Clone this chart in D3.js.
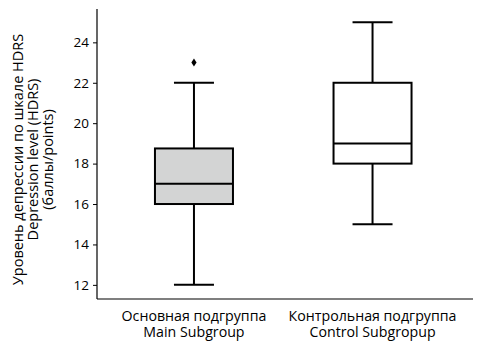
<!DOCTYPE html>
<html>
<head>
<meta charset="utf-8">
<script src="https://cdn.jsdelivr.net/npm/d3@7"></script>
<style>
  body { margin: 0; background: #fff; }
  text { font-family: "Open Sans", sans-serif; }
</style>
</head>
<body>
<svg width="483" height="354"></svg>
<script>
const groups = ["Основная подгруппа\nMain Subgroup", "Контрольная подгруппа\nControl Subgropup"];
const mins = [12, 15];
const q1s = [16, 18];
const medians = [17, 19];
const q3s = [18.75, 22];
const maxs = [22, 25];
const outliers = [[23], []];
const fills = ["#d3d4d4", "#ffffff"];
const yTicks = [12, 14, 16, 18, 20, 22, 24];

const boxes = groups.map((g, i) => ({
  group: g, min: mins[i], q1: q1s[i], median: medians[i], q3: q3s[i], max: maxs[i],
  out: outliers[i], fill: fills[i]
}));

const plotL = 97, plotR = 473, plotT = 9, plotB = 298;

const svg = d3.select('svg');

const y = d3.scaleLinear()
  .domain([11.35, 25.65])
  .range([plotB, plotT]);

const x = d3.scalePoint()
  .domain(groups)
  .range([plotL, 469.5])
  .padding(0.543);

const boxW = 78, capW = 40;

// axes
const yAxis = svg.append('g')
  .attr('transform', `translate(${plotL},0)`)
  .call(d3.axisLeft(y).tickValues(yTicks).tickSize(4).tickPadding(4).tickSizeOuter(0));
yAxis.select('.domain').attr('stroke', '#000').attr('stroke-width', 1.2)
  .attr('d', `M0,${plotT}V${plotB + 1}`);
yAxis.selectAll('.tick line').attr('stroke', '#000').attr('stroke-width', 1);
yAxis.selectAll('.tick text').attr('font-size', 13.5).attr('fill', '#000')
  .style('font-family', '"Open Sans", sans-serif');

const xAxis = svg.append('g')
  .attr('transform', `translate(0,${plotB + 1})`)
  .call(d3.axisBottom(x).tickSize(0).tickFormat(''));
xAxis.select('.domain').attr('stroke', '#000').attr('stroke-width', 1.2)
  .attr('d', `M${plotL},0H${plotR}`);

// x labels, two lines each
groups.forEach(g => {
  g.split('\n').forEach((line, k) => {
    svg.append('text')
      .attr('x', x(g))
      .attr('y', 321 + k * 16)
      .attr('text-anchor', 'middle')
      .attr('font-size', 14.2)
      .attr('fill', '#000')
      .text(line);
  });
});

// y title
const yTitle = ["Уровень депрессии по шкале HDRS", "Depression level (HDRS)", "(баллы/points)"];
const yt = svg.append('text')
  .attr('transform', `translate(23,${(plotT + plotB) / 2 + 6}) rotate(-90)`)
  .attr('text-anchor', 'middle')
  .attr('font-size', 14.5)
  .attr('fill', '#000');
yTitle.forEach((line, k) => {
  yt.append('tspan').attr('x', 0).attr('dy', k === 0 ? 0 : 15).text(line);
});

// boxplots
const bx = svg.selectAll('.box')
  .data(boxes)
  .enter().append('g')
  .attr('class', 'box')
  .attr('transform', d => `translate(${x(d.group)},0)`);

bx.append('line')
  .attr('x1', 0).attr('x2', 0)
  .attr('y1', d => y(d.max)).attr('y2', d => y(d.q3))
  .attr('stroke', '#000').attr('stroke-width', 2);
bx.append('line')
  .attr('x1', 0).attr('x2', 0)
  .attr('y1', d => y(d.q1)).attr('y2', d => y(d.min))
  .attr('stroke', '#000').attr('stroke-width', 2);
bx.append('line')
  .attr('x1', -capW / 2).attr('x2', capW / 2)
  .attr('y1', d => y(d.max)).attr('y2', d => y(d.max))
  .attr('stroke', '#000').attr('stroke-width', 2);
bx.append('line')
  .attr('x1', -capW / 2).attr('x2', capW / 2)
  .attr('y1', d => y(d.min)).attr('y2', d => y(d.min))
  .attr('stroke', '#000').attr('stroke-width', 2);
bx.append('rect')
  .attr('x', -boxW / 2).attr('width', boxW)
  .attr('y', d => y(d.q3))
  .attr('height', d => y(d.q1) - y(d.q3))
  .attr('fill', d => d.fill)
  .attr('stroke', '#000').attr('stroke-width', 2);
bx.append('line')
  .attr('x1', -boxW / 2).attr('x2', boxW / 2)
  .attr('y1', d => y(d.median)).attr('y2', d => y(d.median))
  .attr('stroke', '#000').attr('stroke-width', 2);

bx.selectAll('.out')
  .data(d => d.out)
  .enter().append('path')
  .attr('class', 'out')
  .attr('d', v => `M0,${y(v) - 4}L2.6,${y(v)}L0,${y(v) + 4}L-2.6,${y(v)}Z`)
  .attr('fill', '#000');
</script>
</body>
</html>
